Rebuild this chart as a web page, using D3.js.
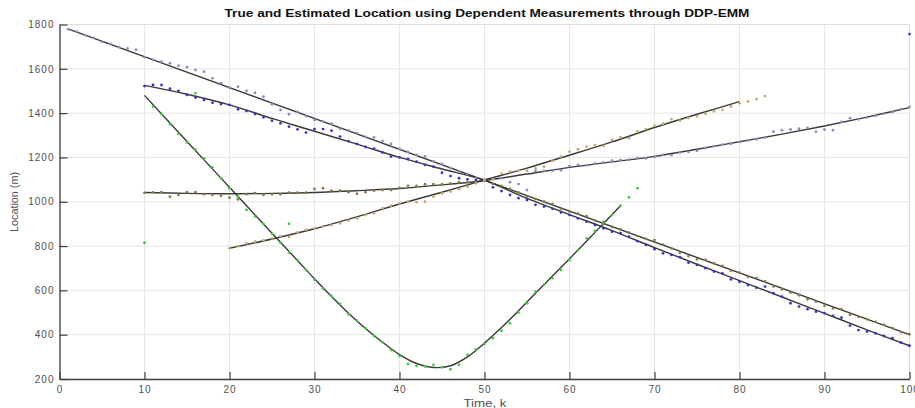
<!DOCTYPE html>
<html><head><meta charset="utf-8">
<script src="https://cdn.jsdelivr.net/npm/d3@7"></script>
<style>body{margin:0;background:#fff} svg{display:block;font-family:"Liberation Sans",Arial,sans-serif}</style>
</head><body><svg id="c" width="915" height="408"></svg>
<script>
// ---- axis ticks ----
const xTickValues = [0,10,20,30,40,50,60,70,80,90,100];
const yTickValues = [200,400,600,800,1000,1200,1400,1600,1800];

// ---- true trajectories (time k, location m) ----
const truth1K = [1,100];
const truth1V = [1780,400];
const truth2K = [10,15,20,25,30,35,40,45,50,55,60,65,70,75,80,85,90,95,100];
const truth2V = [1525,1485,1437,1376,1318,1260,1200,1148,1097,1015,942,870,793,718,644,570,496,422,350];
const truth3K = [10,15,20,25,28,30,32,34,36,38,40,42,44,46,48,50,52,54,56,58,60,62,64,66];
const truth3V = [1480,1272,1065,858,735,652,572,497,428,366,310,270,252,260,300,362,432,508,587,665,743,822,902,982];
const truth4K = [10,15,20,25,30,35,40,45,50,55,60,65,70,75,80,85,90,95,100];
const truth4V = [1042,1038,1036,1038,1042,1050,1060,1076,1096,1125,1155,1180,1205,1237,1271,1305,1342,1382,1425];
const truth5K = [20,25,30,35,40,45,50,55,60,65,70,75,80];
const truth5V = [790,832,878,932,990,1043,1098,1152,1210,1270,1335,1395,1452];

// ---- estimated locations per cluster (first k, then one value per step) ----
const clusterAStart = 1;   // lavender
const clusterA = [1778,1768,1752,1740,1722,1712,1698,1692,1686,1652,
  1640,1632,1625,1614,1607,1595,1587,1557,1535,1515,
  1519,1500,1492,1474,1440,1414,1395,1406,1387,1369,
  1362,1352,1330,1322,1310,1293,1291,1274,1261,1238,
  1225,1212,1205,1182,1170,1152,1135,1125,1108,
  1100,1102,1106,1088,1080,1053,1139,1139,1140,1142,
  1161,1166,1164,1172,1178,1185,1188,1190,1198,1196,
  1202,1212,1210,1222,1225,1230,1242,1250,1258,1262,
  1270,1276,1282,1290,1316,1323,1326,1330,1333,1316,
  1326,1323,1360,1377,1372,1380,1388,1398,1405,1418,
  1428];
const clusterBStart = 10;  // olive
const clusterB = [1040,1042,1043,1023,1031,1043,1043,1034,1031,1027,
  1018,1011,1034,1039,1031,1034,1034,1041,1041,1041,
  1058,1061,1050,1050,1043,1036,1043,1050,1053,1053,
  1062,1072,1071,1079,1079,1079,1083,1088,1088,1090,
  1095,1080,1072,1058,1042,1023,1012,1000,990,968,
  955,946,935,915,902,886,875,860,845,832,
  827,806,790,770,755,740,738,722,710,689,
  680,662,656,640,618,605,590,578,560,549,
  531,519,515,490,481,470,458,444,430,412,
  402];
const clusterCStart = 10;  // blue
const clusterC = [1522,1527,1527,1510,1500,1482,1470,1459,1447,1441,
  1437,1417,1410,1396,1381,1366,1354,1339,1327,1312,
  1328,1328,1321,1294,1274,1261,1247,1240,1222,1204,
  1200,1193,1181,1166,1158,1131,1116,1106,1101,1098,
  1094,1065,1048,1031,1016,1008,986,978,968,951,
  940,925,910,895,880,865,858,842,822,805,
  786,767,760,750,725,715,700,685,677,650,
  639,624,612,617,587,572,542,527,515,504,
  497,485,477,441,421,414,406,394,384,364,
  350];
const clusterCExtraK = [100];
const clusterCExtraV = [1757];
const clusterDStart = 20;  // tan
const clusterD = [790,800,812,820,826,835,845,841,862,874,
  880,890,895,903,915,926,940,948,971,982,
  993,1000,998,1000,1023,1038,1046,1056,1068,1083,
  1096,1101,1128,1136,1140,1140,1151,1158,1185,1204,
  1226,1237,1249,1256,1252,1279,1290,1287,1317,1328,
  1343,1352,1373,1366,1378,1385,1397,1408,1415,1430,
  1445,1453,1463,1477];
const clusterEStart = 10;  // green
const clusterE = [815,1429,1396,1350,1306,1267,1235,1196,1155,1106,
  1061,1022,963,933,900,855,815,771,735,692,
  648,609,575,539,492,463,429,394,366,331,
  304,268,259,256,264,253,244,264,309,334,
  358,384,418,452,500,542,594,627,655,692,
  737,782,835,868,910,940,982,1020,1061];
const clusterEExtraK = [16,27];
const clusterEExtraV = [1490,900];

const titleText = "True and Estimated Location using Dependent Measurements through DDP-EMM";
const xLabel = "Time, k";
const yLabel = "Location (m)";

// ---- drawing ----
const svg = d3.select("#c");
const x = d3.scaleLinear().domain([0,100]).range([59.5,909.5]);
const y = d3.scaleLinear().domain([200,1800]).range([379,24.5]);
const [x0,x1] = x.range(), [y0,y1] = y.range();

// grid
const grid = svg.append("g");
grid.selectAll("line.v").data(xTickValues).join("line")
  .attr("x1",d=>x(d)).attr("x2",d=>x(d)).attr("y1",y0).attr("y2",y1)
  .attr("stroke","#e6e6e6").attr("stroke-width",1);
grid.selectAll("line.h").data(yTickValues).join("line")
  .attr("x1",x0).attr("x2",x1).attr("y1",d=>y(d)).attr("y2",d=>y(d))
  .attr("stroke","#e6e6e6").attr("stroke-width",1);
// light box top/right
svg.append("path").attr("d",`M${x0},${y1}H${x1}V${y0}`).attr("fill","none").attr("stroke","#dcdcdc");

// truths
const line = d3.line().x(d=>x(d[0])).y(d=>y(d[1])).curve(d3.curveCatmullRom.alpha(0.5));
const truths = [[truth1K,truth1V],[truth2K,truth2V],[truth3K,truth3V],[truth4K,truth4V],[truth5K,truth5V]];
svg.append("g").selectAll("path").data(truths).join("path")
  .attr("d",t=>line(t[0].map((k,i)=>[k,t[1][i]])))
  .attr("fill","none").attr("stroke","#3a3a3a").attr("stroke-width",1.4);

// estimates
const clusters = [
  {start:clusterAStart, vals:clusterA, color:"#8c8cc4", ek:[], ev:[]},
  {start:clusterBStart, vals:clusterB, color:"#8f7a45", ek:[], ev:[]},
  {start:clusterCStart, vals:clusterC, color:"#3434d0", ek:clusterCExtraK, ev:clusterCExtraV},
  {start:clusterDStart, vals:clusterD, color:"#c4ac68", ek:[], ev:[]},
  {start:clusterEStart, vals:clusterE, color:"#3ecb3e", ek:clusterEExtraK, ev:clusterEExtraV}
];
clusters.forEach(c=>{
  const pts = c.vals.map((v,i)=>[c.start+i,v]).concat(c.ek.map((k,i)=>[k,c.ev[i]]));
  svg.append("g").selectAll("circle").data(pts).join("circle")
    .attr("cx",d=>x(d[0])).attr("cy",d=>y(d[1])).attr("r",1.4).attr("fill",c.color);
});

// axes
const xAxis = d3.axisBottom(x).tickValues(xTickValues).tickFormat(d3.format("d")).tickSize(-7).tickPadding(7).tickSizeOuter(0);
const yAxis = d3.axisLeft(y).tickValues(yTickValues).tickFormat(d3.format("d")).tickSize(-8).tickPadding(5).tickSizeOuter(0);
const gx = svg.append("g").attr("transform",`translate(0,${y0})`).call(xAxis);
const gy = svg.append("g").attr("transform",`translate(${x0},0)`).call(yAxis);
[gx,gy].forEach(g=>{
  g.select(".domain").attr("stroke","#404040").attr("stroke-width",1.3);
  g.selectAll(".tick line").attr("stroke","#404040").attr("stroke-width",1.2);
  g.selectAll(".tick text").attr("fill","#505050").attr("font-size",10).attr("letter-spacing","1px")
   .attr("font-family","'Liberation Sans',Arial,sans-serif");
});

// title and labels
svg.append("text").attr("x",487).attr("y",17).attr("text-anchor","middle")
  .attr("font-size",11).attr("font-weight","bold").attr("fill","#111")
  .attr("textLength",525).attr("lengthAdjust","spacingAndGlyphs").text(titleText);
svg.append("text").attr("x",485).attr("y",407).attr("text-anchor","middle")
  .attr("font-size",10.5).attr("fill","#505050")
  .attr("textLength",43).attr("lengthAdjust","spacingAndGlyphs").text(xLabel);
svg.append("text").attr("transform","translate(18,202) rotate(-90)").attr("text-anchor","middle")
  .attr("font-size",10.5).attr("fill","#505050")
  .attr("textLength",60).attr("lengthAdjust","spacingAndGlyphs").text(yLabel);
</script></body></html>
